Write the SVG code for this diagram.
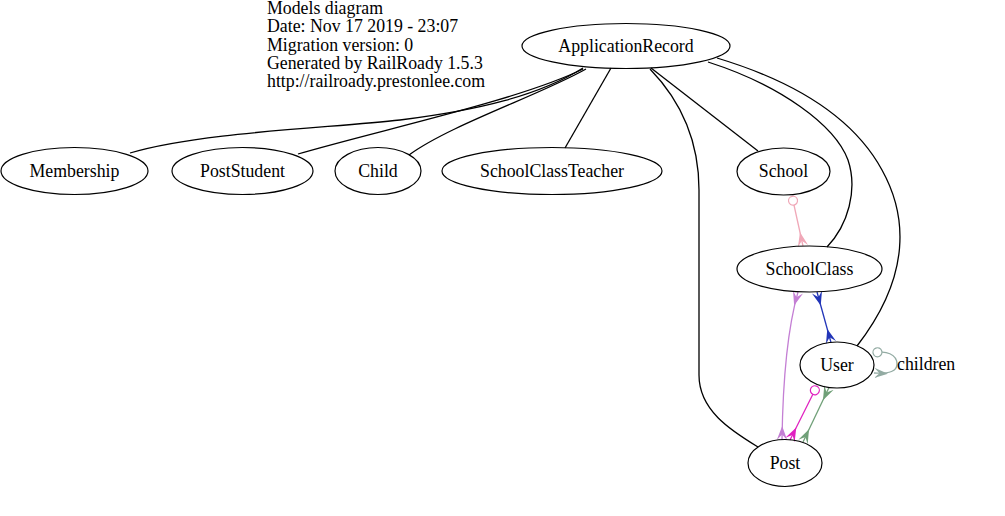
<svg xmlns="http://www.w3.org/2000/svg" width="1005" height="516" viewBox="0 0 1005 516">
<style>
text{font-family:"Liberation Serif","Times New Roman",serif;font-size:17.8px;fill:#000}
.n ellipse{fill:none;stroke:#000;stroke-width:1.2}
.n text{text-anchor:middle}
.e path{fill:none;stroke-width:1.3}
.k{stroke:#000}
</style>
<defs>
<marker id="crow-pink" viewBox="0 0 14 12" refX="14" refY="6" markerWidth="14" markerHeight="12" markerUnits="userSpaceOnUse" orient="auto-start-reverse"><path d="M0,6 L14,0.8 L8.5,6 L14,11.2 Z" fill="#f0a8b8"/></marker>
<marker id="odot-pink" viewBox="0 0 11 11" refX="10.3" refY="5.5" markerWidth="11" markerHeight="11" markerUnits="userSpaceOnUse" orient="auto-start-reverse"><circle cx="5.5" cy="5.5" r="4.5" fill="#fff" stroke="#f0a8b8" stroke-width="1.2"/></marker>
<marker id="crow-blue" viewBox="0 0 14 12" refX="14" refY="6" markerWidth="14" markerHeight="12" markerUnits="userSpaceOnUse" orient="auto-start-reverse"><path d="M0,6 L14,0.8 L8.5,6 L14,11.2 Z" fill="#2235b8"/></marker>
<marker id="crow-orchid" viewBox="0 0 14 12" refX="14" refY="6" markerWidth="14" markerHeight="12" markerUnits="userSpaceOnUse" orient="auto-start-reverse"><path d="M0,6 L14,0.8 L8.5,6 L14,11.2 Z" fill="#c47fd4"/></marker>
<marker id="crow-mag" viewBox="0 0 14 12" refX="14" refY="6" markerWidth="14" markerHeight="12" markerUnits="userSpaceOnUse" orient="auto-start-reverse"><path d="M0,6 L14,0.8 L8.5,6 L14,11.2 Z" fill="#e020c0"/></marker>
<marker id="odot-mag" viewBox="0 0 11 11" refX="10.3" refY="5.5" markerWidth="11" markerHeight="11" markerUnits="userSpaceOnUse" orient="auto-start-reverse"><circle cx="5.5" cy="5.5" r="4.5" fill="#fff" stroke="#e020c0" stroke-width="1.2"/></marker>
<marker id="crow-green" viewBox="0 0 14 12" refX="14" refY="6" markerWidth="14" markerHeight="12" markerUnits="userSpaceOnUse" orient="auto-start-reverse"><path d="M0,6 L14,0.8 L8.5,6 L14,11.2 Z" fill="#70a078"/></marker>
<marker id="crow-gray" viewBox="0 0 14 12" refX="14" refY="6" markerWidth="14" markerHeight="12" markerUnits="userSpaceOnUse" orient="auto-start-reverse"><path d="M0,6 L14,0.8 L8.5,6 L14,11.2 Z" fill="#93aba3"/></marker>
<marker id="odot-gray" viewBox="0 0 11 11" refX="10.3" refY="5.5" markerWidth="11" markerHeight="11" markerUnits="userSpaceOnUse" orient="auto-start-reverse"><circle cx="5.5" cy="5.5" r="4.5" fill="#fff" stroke="#93aba3" stroke-width="1.2"/></marker>
</defs>
<rect width="1005" height="516" fill="#fff"/>
<g id="title">
<text x="267" y="14">Models diagram</text>
<text x="267" y="32">Date: Nov 17 2019 - 23:07</text>
<text x="267" y="50.5">Migration version: 0</text>
<text x="267" y="69">Generated by RailRoady 1.5.3</text>
<text x="267" y="87">http://railroady.prestonlee.com</text>
</g>
<g id="connectors" class="e">
<path class="k" d="M583,68 C540,95 480,110 400,120 C330,128 200,132 130,153"/>
<path class="k" d="M583,69 C520,100 380,130 298,154"/>
<path class="k" d="M586,69 C540,95 450,125 409,155"/>
<path class="k" d="M611,68 L565,148"/>
<path class="k" d="M651,68 L758,151"/>
<path class="k" d="M650,69 C680,100 699,140 699,190 L699,375 C699,410 730,430 758,447"/>
<path class="k" d="M708,62 C780,85 835,125 848,160 C858,190 848,225 827,247"/>
<path class="k" d="M717,58 C790,80 852,115 882,170 C907,215 912,275 857,346"/>
<path stroke="#f0a8b8" d="M792,196 L803,246" marker-start="url(#odot-pink)" marker-end="url(#crow-pink)"/>
<path stroke="#2235b8" d="M817,292 L831,342.5" marker-start="url(#crow-blue)" marker-end="url(#crow-blue)"/>
<path stroke="#c47fd4" d="M798,292 C790,320 783,370 782,440" marker-start="url(#crow-orchid)" marker-end="url(#crow-orchid)"/>
<path stroke="#e020c0" d="M817,386 L790,440" marker-start="url(#odot-mag)" marker-end="url(#crow-mag)"/>
<path stroke="#70a078" d="M829,387.5 L803,442" marker-start="url(#crow-green)" marker-end="url(#crow-green)"/>
<path stroke="#93aba3" d="M873,354 C886,349 897,355 897,364 C897,371 890,374 874,373" marker-start="url(#odot-gray)" marker-end="url(#crow-gray)"/>
<text x="897" y="370">children</text>
</g>
<g id="ApplicationRecord" class="n"><ellipse cx="626" cy="46" rx="104" ry="22.5"/><text x="626" y="51.5">ApplicationRecord</text></g>
<g id="Membership" class="n"><ellipse cx="74.5" cy="171" rx="73.5" ry="23.5"/><text x="74.5" y="177">Membership</text></g>
<g id="PostStudent" class="n"><ellipse cx="242.5" cy="171" rx="70.5" ry="23.5"/><text x="242.5" y="177">PostStudent</text></g>
<g id="Child" class="n"><ellipse cx="378" cy="171" rx="43" ry="23.5"/><text x="378" y="177">Child</text></g>
<g id="SchoolClassTeacher" class="n"><ellipse cx="552" cy="171" rx="110" ry="23.5"/><text x="552" y="177">SchoolClassTeacher</text></g>
<g id="School" class="n"><ellipse cx="783.5" cy="171.5" rx="46.5" ry="23.5"/><text x="783.5" y="177">School</text></g>
<g id="SchoolClass" class="n"><ellipse cx="809.5" cy="269" rx="72.5" ry="23"/><text x="809.5" y="274.5">SchoolClass</text></g>
<g id="User" class="n"><ellipse cx="837" cy="365" rx="37" ry="23"/><text x="837" y="370.5">User</text></g>
<g id="Post" class="n"><ellipse cx="785" cy="463" rx="37" ry="23.5"/><text x="785" y="469">Post</text></g>
</svg>
